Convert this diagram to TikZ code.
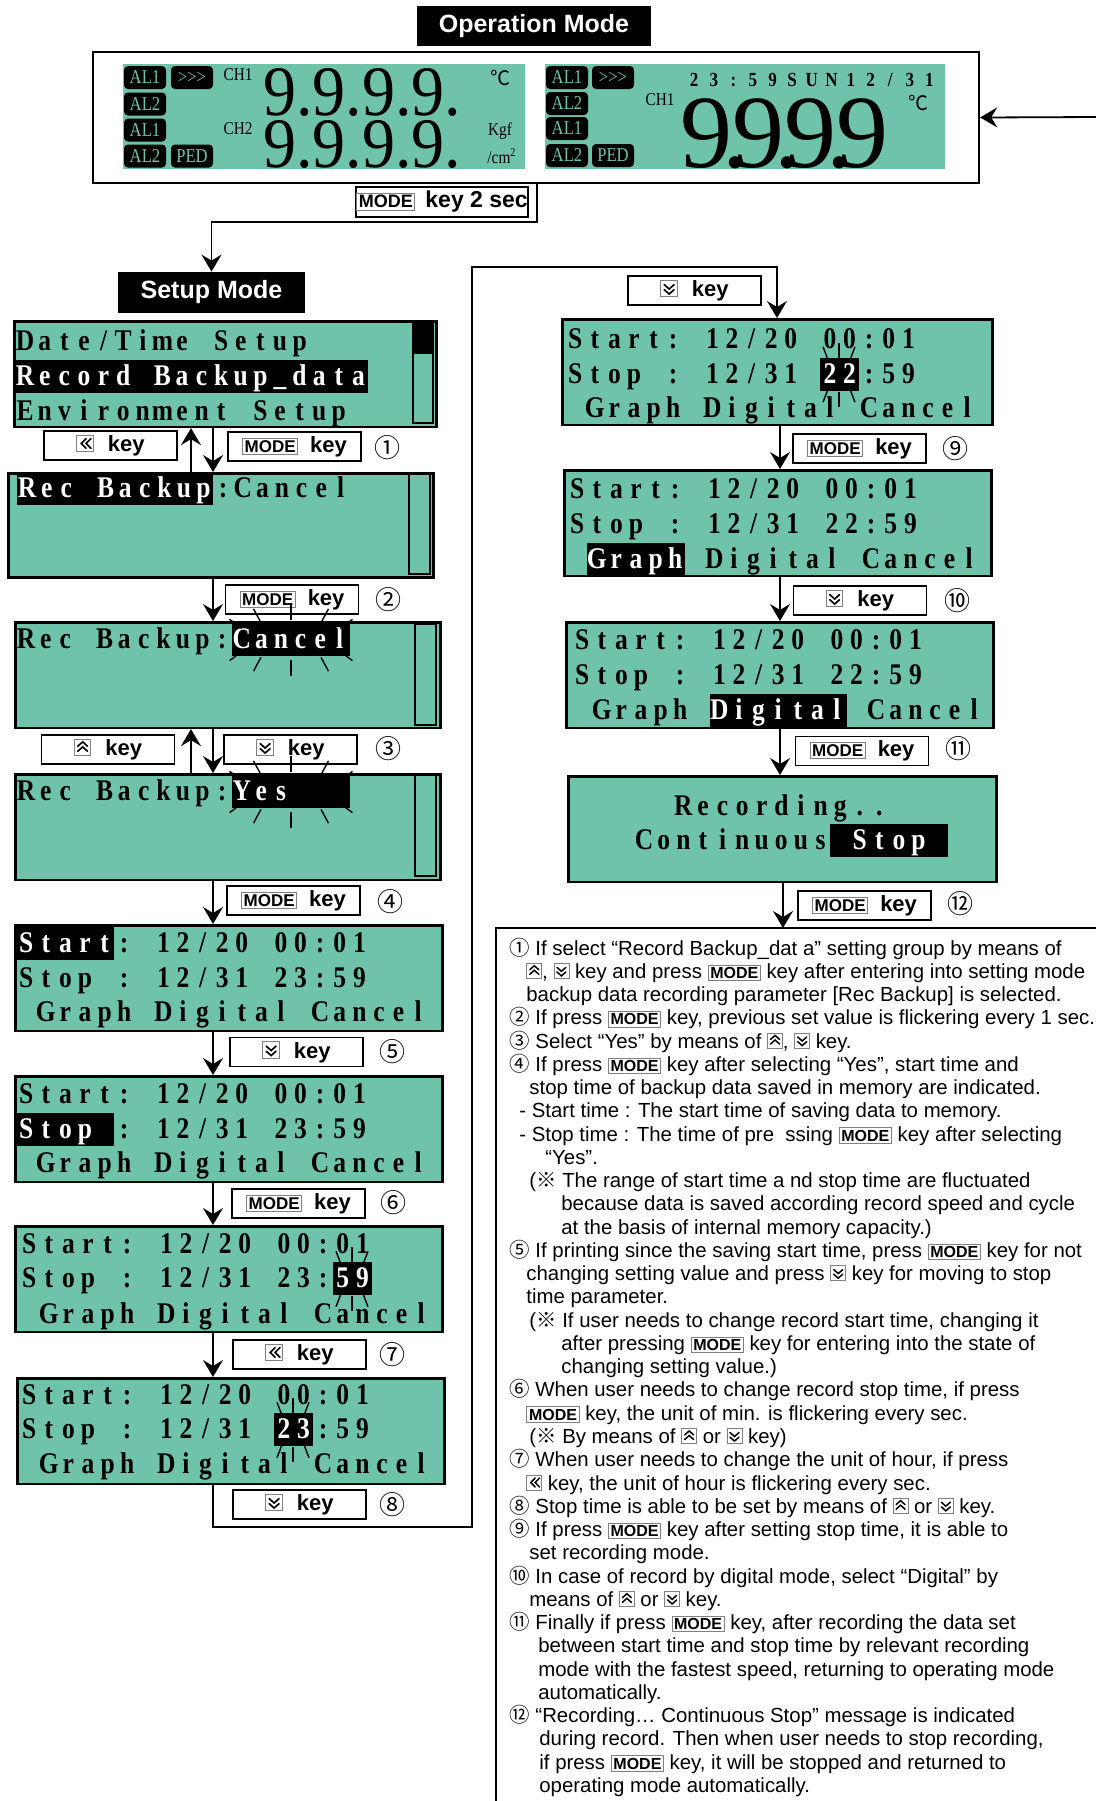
\documentclass[tikz,border=0pt]{standalone}
\usepackage{fontspec}
\setmainfont{Liberation Serif}
\setsansfont{Liberation Sans}
\newfontfamily\lcdfont[FakeStretch=0.85]{Liberation Serif}
\newfontfamily\cjkfont{Noto Sans CJK SC}
\usetikzlibrary{arrows.meta}
\definecolor{lcdteal}{RGB}{111,195,171}
\makeatletter
\newcommand\lcdtext[1]{\@tfor\lcdch:=#1\do{\makebox[9.8pt][c]{\lcdch}}}
\makeatother
\newcommand\lcdhl[1]{{\fboxsep=0pt\colorbox{black}{\color{white}\rule[-4pt]{0pt}{16.5pt}\lcdtext{#1}}}}
\newcommand\cn[1]{{\cjkfont #1}}
\newcommand\modetag[1][8]{{\fboxsep=0.8pt\fboxrule=0.5pt\fcolorbox{gray}{white}{\fontsize{#1}{#1}\selectfont\bfseries\sffamily MODE}}}
\newcommand\upicon{\tikz[x=1pt,y=1pt,baseline=0pt,line cap=round]{\draw[gray,line width=.4pt] (0,0) rectangle (7.5,7.5); \draw[line width=.75pt] (1.5,2)--(3.75,4)--(6,2) (1.5,4.3)--(3.75,6.3)--(6,4.3);}}
\newcommand\downicon{\tikz[x=1pt,y=1pt,baseline=0pt,line cap=round]{\draw[gray,line width=.4pt] (0,0) rectangle (7.5,7.5); \draw[line width=.75pt] (1.5,5.5)--(3.75,3.5)--(6,5.5) (1.5,3.2)--(3.75,1.2)--(6,3.2);}}
\newcommand\lefticon{\tikz[x=1pt,y=1pt,baseline=0pt,line cap=round]{\draw[gray,line width=.4pt] (0,0) rectangle (7.5,7.5); \draw[line width=.75pt] (4.2,1.5)--(2,3.75)--(4.2,6) (6.4,1.5)--(4.2,3.75)--(6.4,6);}}
\newcommand\dotnine{\kern-.1em.\kern-.15em}

\begin{document}
\begin{tikzpicture}[x=0.5pt,y=-0.5pt]
\tikzset{
  lcd/.style={draw=black,fill=lcdteal,line width=1.3pt,anchor=north west,inner sep=0pt,minimum width=213.5pt,minimum height=52.75pt},
  lcdline/.style={anchor=base west,inner sep=0pt,font=\fontsize{15}{15}\lcdfont\bfseries},
  keybox/.style={draw=black,fill=white,line width=0.9pt,minimum width=66.5pt,minimum height=14.5pt,inner sep=0pt,font=\fontsize{11}{11}\selectfont\bfseries\sffamily},
  numlabel/.style={inner sep=0pt,font=\fontsize{13}{13}\cjkfont},
  titlebox/.style={fill=black,text=white,inner sep=0pt,font=\fontsize{12.5}{12.5}\selectfont\bfseries\sffamily},
  tag/.style={fill=black,rounded corners=2pt,text=lcdteal,inner sep=0pt,minimum width=21pt,minimum height=11.5pt,font=\fontsize{9.8}{9.8}\lcdfont},
  chlabel/.style={inner sep=0pt,font=\fontsize{9}{9}\lcdfont},
  bigdigit/.style={anchor=base west,inner sep=0pt,text depth=0pt},
  note/.style={anchor=base west,inner sep=0pt,font=\fontsize{10.2}{11.6}\selectfont\sffamily},
  flow/.style={line width=0.9pt,-{Stealth[length=8.5pt,width=10pt,inset=3pt]}},
  ray/.style={line width=0.7pt}
}
\useasboundingbox (0,0) rectangle (1096,1801);

\node[titlebox,minimum width=117pt,minimum height=20pt] (opmode) at (534,26) {Operation Mode};
\node[draw=black,line width=1.2pt,minimum width=443pt,minimum height=65.5pt,inner sep=0pt] (opbox) at (536,117.5) {};
\fill[lcdteal] (123,64) rectangle (525,169);
\fill[lcdteal] (545,64) rectangle (945,169);
\node[tag] (tagA) at (145,77.5) {AL1};
\node[tag] (tagB) at (192,77.5) {>>>};
\node[tag] (tagC) at (145,104) {AL2};
\node[tag] (tagD) at (145,130) {AL1};
\node[tag] (tagE) at (145,156) {AL2};
\node[tag] (tagF) at (192,156) {PED};
\node[tag] (tagG) at (567,77.5) {AL1};
\node[tag] (tagH) at (613,77.5) {>>>};
\node[tag] (tagI) at (567,103.5) {AL2};
\node[tag] (tagJ) at (567,128.5) {AL1};
\node[tag] (tagK) at (567,155.5) {AL2};
\node[tag] (tagL) at (613,155.5) {PED};
\node[chlabel] (chA) at (238,75) {CH1};
\node[chlabel] (chB) at (238,129) {CH2};
\node[chlabel] (chC) at (660,100) {CH1};
\node[bigdigit,text height=24pt,font=\fontsize{35.5}{35.5}\selectfont] (digA) at (263,115) {\scalebox{0.93}[1]{9.9.9.9.}};
\node[bigdigit,text height=24pt,font=\fontsize{35.5}{35.5}\selectfont] (digB) at (263,167) {\scalebox{0.93}[1]{9.9.9.9.}};
\node[bigdigit,text height=35pt,font=\fontsize{52}{52}\selectfont] (digC) at (680,167) {9\dotnine9\dotnine9\dotnine9};
\node[inner sep=0pt,font=\fontsize{10}{10}\cjkfont] (degA) at (500,78) {℃};
\node[inner sep=0pt,font=\fontsize{10}{10}\cjkfont] (degB) at (918,103) {℃};
\node[chlabel] (kgf) at (500,131) {Kgf};
\node[chlabel] (cmsq) at (502,156) {/cm\textsuperscript{2}};
\node[anchor=base west,inner sep=0pt,font=\fontsize{10}{10}\lcdfont\bfseries] (clock) at (684,86) {\lcdtext{23:59SUN12/31}};
\node[keybox,minimum width=85pt,minimum height=15pt,font=\fontsize{11.5}{11.5}\selectfont\bfseries\sffamily] (kop) at (442,202) {\modetag[9]\hspace{5pt}key 2 sec};

\node[titlebox,minimum width=93.5pt,minimum height=20.5pt] (setup) at (211.5,292.5) {Setup Mode};

\node[lcd,minimum width=211pt] (lcdL1) at (13,320) {};
\node[lcd,minimum width=212.5pt,minimum height=52pt] (lcdL2) at (7,472) {};
\node[lcd,minimum width=212.5pt] (lcdL3) at (14,621) {};
\node[lcd,minimum width=212.5pt] (lcdL4) at (14,773) {};
\node[lcd] (lcdL5) at (14,924) {};
\node[lcd] (lcdL6) at (14,1075) {};
\node[lcd] (lcdL7) at (14,1225) {};
\node[lcd] (lcdL8) at (16,1377) {};
\node[lcd,minimum width=215pt] (lcdRA) at (561,318) {};
\node[lcd] (lcdRB) at (563,469) {};
\node[lcd] (lcdRC) at (565,621) {};
\node[lcd,minimum width=214pt] (lcdRD) at (567,775) {};

\draw[line width=0.8pt,fill=lcdteal] (413,323) rectangle (433,423);
\fill (413,323) rectangle (433,354);
\draw[line width=0.8pt] (409,474) rectangle (430,574);
\draw[line width=0.8pt] (415,624) rectangle (436,725);
\draw[line width=0.8pt] (415,775) rectangle (436,876);

\node[lcdline] (tL1a) at (15,350) {\lcdtext{Date/Time~Setup}};
\node[lcdline] (tL1b) at (15,385) {\lcdhl{Record~Backup\_data}};
\node[lcdline] (tL1c) at (15,420) {\lcdtext{Environment~Setup}};
\node[lcdline] (tL2) at (17,497) {\lcdhl{Rec~Backup}\lcdtext{:Cancel}};
\node[lcdline] (tL3) at (16,648) {\lcdtext{Rec~Backup:}\lcdhl{Cancel}};
\node[lcdline] (tL4) at (16,800) {\lcdtext{Rec~Backup:}\lcdhl{Yes~~~}};
\node[lcdline] (tL5a) at (16,952) {\lcdhl{Start}\lcdtext{:~12/20~00:01}};
\node[lcdline] (tL5b) at (16,987) {\lcdtext{Stop~:~12/31~23:59}};
\node[lcdline] (tL5c) at (16,1021) {\lcdtext{~Graph~Digital~Cancel}};
\node[lcdline] (tL6a) at (16,1103) {\lcdtext{Start:~12/20~00:01}};
\node[lcdline] (tL6b) at (16,1138) {\lcdhl{Stop~}\lcdtext{:~12/31~23:59}};
\node[lcdline] (tL6c) at (16,1172) {\lcdtext{~Graph~Digital~Cancel}};
\node[lcdline] (tL7a) at (19,1253) {\lcdtext{Start:~12/20~00:01}};
\node[lcdline] (tL7b) at (19,1287) {\lcdtext{Stop~:~12/31~23:}\lcdhl{59}};
\node[lcdline] (tL7c) at (19,1323) {\lcdtext{~Graph~Digital~Cancel}};
\node[lcdline] (tL8a) at (19,1404) {\lcdtext{Start:~12/20~00:01}};
\node[lcdline] (tL8b) at (19,1438) {\lcdtext{Stop~:~12/31~}\lcdhl{23}\lcdtext{:59}};
\node[lcdline] (tL8c) at (19,1473) {\lcdtext{~Graph~Digital~Cancel}};
\node[lcdline] (tRAa) at (565,348) {\lcdtext{Start:~12/20~00:01}};
\node[lcdline] (tRAb) at (565,383) {\lcdtext{Stop~:~12/31~}\lcdhl{22}\lcdtext{:59}};
\node[lcdline] (tRAc) at (565,417) {\lcdtext{~Graph~Digital~Cancel}};
\node[lcdline] (tRBa) at (567,498) {\lcdtext{Start:~12/20~00:01}};
\node[lcdline] (tRBb) at (567,533) {\lcdtext{Stop~:~12/31~22:59}};
\node[lcdline] (tRBc) at (567,568) {\lcdtext{~}\lcdhl{Graph}\lcdtext{~Digital~Cancel}};
\node[lcdline] (tRCa) at (572,649) {\lcdtext{Start:~12/20~00:01}};
\node[lcdline] (tRCb) at (572,684) {\lcdtext{Stop~:~12/31~22:59}};
\node[lcdline] (tRCc) at (572,719) {\lcdtext{~Graph~}\lcdhl{Digital}\lcdtext{~Cancel}};
\node[lcdline] (tRDa) at (634,815) {\lcdtext{~~Recording..}};
\node[lcdline] (tRDb) at (634,849) {\lcdtext{Continuous}\lcdhl{~Stop~}};

\coordinate (opdrop) at (537,222);
\coordinate (rin) at (1096,117);
\coordinate (colL) at (213,0);
\coordinate (upL) at (191,0);
\coordinate (colR) at (780,0);
\coordinate (loopSW) at (472,1527);
\coordinate (rtop) at (777,267);
\coordinate (notetop) at (783,928);

\draw[flow] (rin) -- (opbox.east);
\draw[flow] (opbox.south -| opdrop) -- (opdrop) -| (setup.north);
\draw[flow] (lcdL1.south -| colL) -- (lcdL2.north -| colL);
\draw[flow] (lcdL2.north -| upL) -- (lcdL1.south -| upL);
\draw[flow] (lcdL2.south -| colL) -- (lcdL3.north -| colL);
\draw[flow] (lcdL3.south -| colL) -- (lcdL4.north -| colL);
\draw[flow] (lcdL4.north -| upL) -- (lcdL3.south -| upL);
\draw[flow] (lcdL4.south -| colL) -- (lcdL5.north -| colL);
\draw[flow] (lcdL5.south -| colL) -- (lcdL6.north -| colL);
\draw[flow] (lcdL6.south -| colL) -- (lcdL7.north -| colL);
\draw[flow] (lcdL7.south -| colL) -- (lcdL8.north -| colL);
\draw[flow] (lcdL8.south -| colL) |- (loopSW) |- (rtop) -- (lcdRA.north -| rtop);
\draw[flow] (lcdRA.south -| colR) -- (lcdRB.north -| colR);
\draw[flow] (lcdRB.south -| colR) -- (lcdRC.north -| colR);
\draw[flow] (lcdRC.south -| colR) -- (lcdRD.north -| colR);
\draw[flow] (lcdRD.south -| notetop) -- (notetop);
\draw[line width=1pt] (496,1801) -- (496,928) -- (1096,928);

\node[keybox] (kL1a) at (110.5,445.5) {\scalebox{1.1}{\lefticon}\hspace{7pt}key};
\node[keybox] (kL1b) at (294.5,446.5) {\modetag[8.5]\hspace{6pt}key};
\node[keybox] (kL2) at (292,599.5) {\modetag[8.5]\hspace{6pt}key};
\node[keybox] (kL3a) at (108,749.5) {\scalebox{1.1}{\upicon}\hspace{7pt}key};
\node[keybox] (kL3b) at (290.5,749.5) {\scalebox{1.1}{\downicon}\hspace{7pt}key};
\node[keybox] (kL4) at (293.5,900.5) {\modetag[8.5]\hspace{6pt}key};
\node[keybox] (kL5) at (296.5,1052) {\scalebox{1.1}{\downicon}\hspace{7pt}key};
\node[keybox] (kL6) at (298.5,1203.5) {\modetag[8.5]\hspace{6pt}key};
\node[keybox] (kL7) at (299.5,1354.5) {\scalebox{1.1}{\lefticon}\hspace{7pt}key};
\node[keybox] (kL8) at (299.5,1504.5) {\scalebox{1.1}{\downicon}\hspace{7pt}key};
\node[keybox] (kR0) at (694.5,290.5) {\scalebox{1.1}{\downicon}\hspace{7pt}key};
\node[keybox] (kR9) at (859.5,448.5) {\modetag[8.5]\hspace{6pt}key};
\node[keybox] (kR10) at (860,600.5) {\scalebox{1.1}{\downicon}\hspace{7pt}key};
\node[keybox] (kR11) at (862,751) {\modetag[8.5]\hspace{6pt}key};
\node[keybox] (kR12) at (864.5,905.5) {\modetag[8.5]\hspace{6pt}key};

\node[numlabel] (n1) at (387,448) {①};
\node[numlabel] (n2) at (388,600) {②};
\node[numlabel] (n3) at (388,749) {③};
\node[numlabel] (n4) at (390,902) {④};
\node[numlabel] (n5) at (392,1052) {⑤};
\node[numlabel] (n6) at (393,1203) {⑥};
\node[numlabel] (n7) at (392,1355) {⑦};
\node[numlabel] (n8) at (392,1505) {⑧};
\node[numlabel] (n9) at (955,449) {⑨};
\node[numlabel] (n10) at (957,601) {⑩};
\node[numlabel] (n11) at (958,749) {⑪};
\node[numlabel] (n12) at (960,904) {⑫};

\coordinate (fl3) at (291,640);
\coordinate (fl4) at (291,792);
\coordinate (fl7) at (352,1279);
\coordinate (fl8) at (293,1430);
\coordinate (flA) at (839,374.5);
\foreach \c in {fl3,fl4}
  \foreach \a in {35,60,90,120,145,215,240,270,300,325}
    \draw[ray,shift={(\c)}] (\a:60 and 20) -- (\a:75 and 36);
\foreach \c in {fl7,fl8,flA}
  \foreach \a in {60,90,120,240,270,300}
    \draw[ray,shift={(\c)}] (\a:22 and 17) -- (\a:32 and 32);

\node[note] (t1) at (509,955.0) {\cn{①} If select “Record Backup\_dat a” setting group by means of};
\node[note] (t2) at (526,978.3) {\upicon, \downicon\ key and press \modetag\ key after entering into setting mode};
\node[note] (t3) at (526,1001.5) {backup data recording parameter [Rec Backup] is selected.};
\node[note] (t4) at (509,1024.8) {\cn{②} If press \modetag\ key, previous set value is flickering every 1 sec.};
\node[note] (t5) at (509,1048.0) {\cn{③} Select “Yes” by means of \upicon, \downicon\ key.};
\node[note] (t6) at (509,1071.3) {\cn{④} If press \modetag\ key after selecting “Yes”, start time and};
\node[note] (t7) at (529,1094.6) {stop time of backup data saved in memory are indicated.};
\node[note] (t8) at (519,1117.8) {- Start time : The start time of saving data to memory.};
\node[note] (t9) at (519,1141.1) {- Stop time : The time of pre~~ssing \modetag\ key after selecting};
\node[note] (t10) at (545,1164.3) {“Yes”.};
\node[note] (t11) at (529,1187.6) {(\cn{※} The range of start time a nd stop time are fluctuated};
\node[note] (t12) at (561,1210.9) {because data is saved according record speed and cycle};
\node[note] (t13) at (561,1234.1) {at the basis of internal memory capacity.)};
\node[note] (t14) at (509,1257.4) {\cn{⑤} If printing since the saving start time, press \modetag\ key for not};
\node[note] (t15) at (526,1280.6) {changing setting value and press \downicon\ key for moving to stop};
\node[note] (t16) at (526,1303.9) {time parameter.};
\node[note] (t17) at (529,1327.2) {(\cn{※} If user needs to change record start time, changing it};
\node[note] (t18) at (561,1350.4) {after pressing \modetag\ key for entering into the state of};
\node[note] (t19) at (561,1373.7) {changing setting value.)};
\node[note] (t20) at (509,1396.9) {\cn{⑥} When user needs to change record stop time, if press};
\node[note] (t21) at (526,1420.2) {\modetag\ key, the unit of min. is flickering every sec.};
\node[note] (t22) at (529,1443.5) {(\cn{※} By means of \upicon\ or \downicon\ key)};
\node[note] (t23) at (509,1466.7) {\cn{⑦} When user needs to change the unit of hour, if press};
\node[note] (t24) at (526,1490.0) {\lefticon\ key, the unit of hour is flickering every sec.};
\node[note] (t25) at (509,1513.2) {\cn{⑧} Stop time is able to be set by means of \upicon\ or \downicon\ key.};
\node[note] (t26) at (509,1536.5) {\cn{⑨} If press \modetag\ key after setting stop time, it is able to};
\node[note] (t27) at (529,1559.8) {set recording mode.};
\node[note] (t28) at (509,1583.0) {\cn{⑩} In case of record by digital mode, select “Digital” by};
\node[note] (t29) at (529,1606.3) {means of \upicon\ or \downicon\ key.};
\node[note] (t30) at (509,1629.5) {\cn{⑪} Finally if press \modetag\ key, after recording the data set};
\node[note] (t31) at (538,1652.8) {between start time and stop time by relevant recording};
\node[note] (t32) at (538,1676.1) {mode with the fastest speed, returning to operating mode};
\node[note] (t33) at (538,1699.3) {automatically.};
\node[note] (t34) at (509,1722.6) {\cn{⑫} “Recording… Continuous Stop” message is indicated};
\node[note] (t35) at (539,1745.8) {during record. Then when user needs to stop recording,};
\node[note] (t36) at (539,1769.1) {if press \modetag\ key, it will be stopped and returned to};
\node[note] (t37) at (539,1792.4) {operating mode automatically.};
\end{tikzpicture}
\end{document}
